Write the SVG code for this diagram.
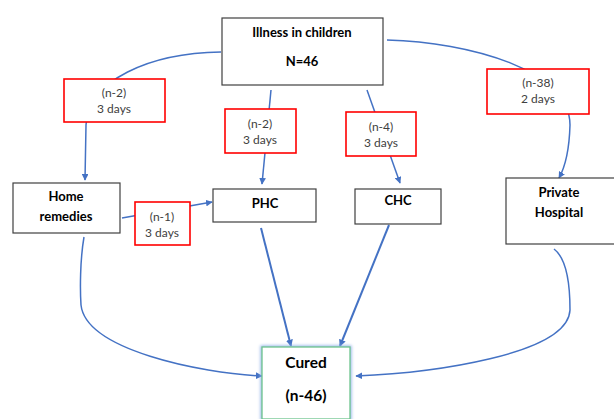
<svg xmlns="http://www.w3.org/2000/svg" width="614" height="419" viewBox="0 0 614 419">
<style>
.c{fill:none;stroke:#4472C4;stroke-width:1.5}
.t{stroke-width:2}
.nb{fill:#fff;stroke:#404040;stroke-width:1.2}
.rb{fill:#fff;stroke:#FF0000;stroke-width:1.6}
.bt{font-family:Lato,"Open Sans",sans-serif;font-weight:bold;font-size:13px;fill:#000;text-anchor:middle}
.lt{font-family:Lato,"Open Sans",sans-serif;font-size:12px;fill:#404040;text-anchor:middle}
.big{font-size:15.5px}
</style>
<defs>
<marker id="a" viewBox="0 0 10 10" refX="9" refY="5" markerWidth="4.5" markerHeight="4.5" orient="auto" markerUnits="strokeWidth">
<path d="M0,0 L10,5 L0,10 Z" fill="#4472C4"/>
</marker>
<marker id="a2" viewBox="0 0 10 10" refX="9" refY="5" markerWidth="3.5" markerHeight="3.5" orient="auto" markerUnits="strokeWidth">
<path d="M0,0 L10,5 L0,10 Z" fill="#4472C4"/>
</marker>
<filter id="g" x="-20%" y="-20%" width="140%" height="140%">
<feGaussianBlur stdDeviation="1.5"/>
</filter>
</defs>
<rect width="614" height="419" fill="#fff"/>
<g id="connectors">
<path class="c" d="M221,52 C150,53 88,80 86,125 L85,180" marker-end="url(#a)"/>
<path class="c" d="M271,90 L262,184" marker-end="url(#a)"/>
<path class="c" d="M367,90 L400,183" marker-end="url(#a)"/>
<path class="c" d="M387,40 C470,42 570,70 570,125 Q569,160 559,178" marker-end="url(#a)"/>
<path class="c" d="M122,218 L212,202" marker-end="url(#a)"/>
<path class="c" d="M84,237 C80,260 80,290 81,305 C86,350 200,373 262,376" marker-end="url(#a)"/>
<path class="c t" d="M261,228 L291,346" marker-end="url(#a2)"/>
<path class="c t" d="M389,225 L340,346" marker-end="url(#a2)"/>
<path class="c" d="M554,249 C566,258 570,280 570,310 C568,355 430,373 356,376" marker-end="url(#a)"/>
</g>
<g id="illness">
<rect class="nb" x="222" y="18" width="161" height="67"/>
<text class="bt" x="302" y="37">Illness in children</text>
<text class="bt" x="302" y="66">N=46</text>
</g>
<g id="home">
<rect class="nb" x="13" y="183" width="107" height="50"/>
<text class="bt" x="66" y="201">Home</text>
<text class="bt" x="66" y="221">remedies</text>
</g>
<g id="phc">
<rect class="nb" x="213" y="189" width="103" height="33"/>
<text class="bt" x="265" y="208">PHC</text>
</g>
<g id="chc">
<rect class="nb" x="355" y="189" width="86" height="35"/>
<text class="bt" x="398" y="205" font-size="11.5">CHC</text>
</g>
<g id="private">
<rect class="nb" x="506" y="178" width="110" height="66"/>
<text class="bt" x="559" y="197">Private</text>
<text class="bt" x="559" y="217">Hospital</text>
</g>
<g id="cured">
<rect x="262" y="347" width="88" height="72" fill="none" stroke="#8FB0E8" stroke-width="3" filter="url(#g)"/>
<rect x="262" y="347" width="88" height="72" fill="#fff" stroke="#6CC38C" stroke-width="1.3"/>
<text class="bt big" x="306" y="368">Cured</text>
<text class="bt big" x="306" y="401">(n-46)</text>
</g>
<g id="lbl1">
<rect class="rb" x="64" y="79" width="101" height="43"/>
<text class="lt" x="114" y="97">(n-2)</text>
<text class="lt" x="114" y="113">3 days</text>
</g>
<g id="lbl2">
<rect class="rb" x="225" y="109" width="71" height="44"/>
<text class="lt" x="260" y="128">(n-2)</text>
<text class="lt" x="260" y="144">3 days</text>
</g>
<g id="lbl3">
<rect class="rb" x="135" y="202" width="55" height="43"/>
<text class="lt" x="162" y="221">(n-1)</text>
<text class="lt" x="162" y="237">3 days</text>
</g>
<g id="lbl4">
<rect class="rb" x="346" y="112" width="70" height="44"/>
<text class="lt" x="381" y="131">(n-4)</text>
<text class="lt" x="381" y="147">3 days</text>
</g>
<g id="lbl5">
<rect class="rb" x="487" y="69" width="102" height="45"/>
<text class="lt" x="538" y="87">(n-38)</text>
<text class="lt" x="538" y="103">2 days</text>
</g>
</svg>
